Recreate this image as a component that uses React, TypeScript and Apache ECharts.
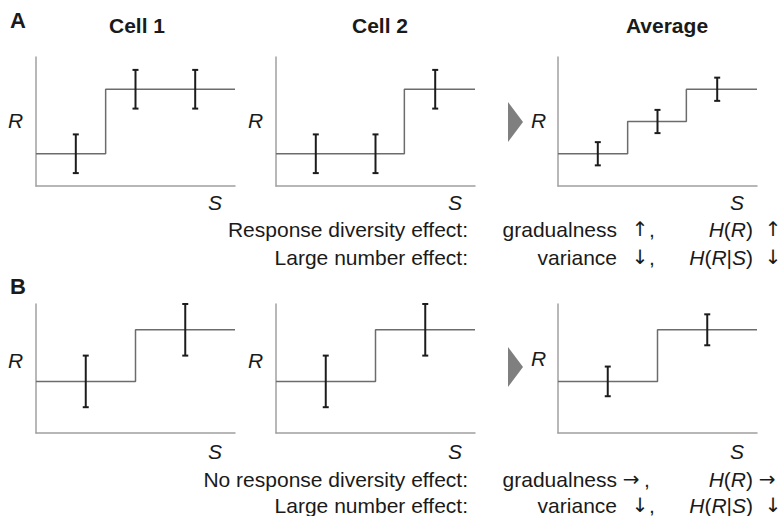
import React, { useEffect, useRef } from 'react';
import * as echarts from 'echarts';

// ---- data ----
const panelTitles = ['Cell 1', 'Cell 2', 'Average'];
const rowLetters = ['A', 'B'];
const yName = 'R';
const xName = 'S';

// step responses: [S, R] (step changes at each S)
const aCell1Steps = [[0, 0.25], [0.35, 0.75], [1, 0.75]];
const aCell2Steps = [[0, 0.25], [0.645, 0.75], [1, 0.75]];
const aAvgSteps = [[0, 0.25], [0.35, 0.5], [0.645, 0.75], [1, 0.75]];
const bCell1Steps = [[0, 0.4], [0.5, 0.8], [1, 0.8]];
const bCell2Steps = [[0, 0.4], [0.5, 0.8], [1, 0.8]];
const bAvgSteps = [[0, 0.4], [0.5, 0.8], [1, 0.8]];

// error bars: [S, mean R, half-range]
const aCell1Bars = [[0.2, 0.25, 0.15], [0.5, 0.75, 0.15], [0.8, 0.75, 0.15]];
const aCell2Bars = [[0.2, 0.25, 0.15], [0.5, 0.25, 0.15], [0.8, 0.75, 0.15]];
const aAvgBars = [[0.2, 0.25, 0.09], [0.5, 0.5, 0.09], [0.8, 0.75, 0.09]];
const bCell1Bars = [[0.25, 0.4, 0.2], [0.75, 0.8, 0.2]];
const bCell2Bars = [[0.25, 0.4, 0.2], [0.75, 0.8, 0.2]];
const bAvgBars = [[0.25, 0.4, 0.115], [0.75, 0.8, 0.12]];

const UP = '\u2191\uFE0E';
const DOWN = '\u2193\uFE0E';
const RIGHT = '\u2192\uFE0E';
const rowAEffects = ['Response diversity effect:', 'Large number effect:'];
const rowBEffects = ['No response diversity effect:', 'Large number effect:'];
const rowAMeasures = [['gradualness', UP], ['variance', DOWN]];
const rowBMeasures = [['gradualness', RIGHT], ['variance', DOWN]];
const rowAInfo = [['{i|H}({i|R})', UP], ['{i|H}({i|R}|{i|S})', DOWN]];
const rowBInfo = [['{i|H}({i|R})', RIGHT], ['{i|H}({i|R}|{i|S})', DOWN]];

// ---- layout / style ----
const FONT = '"Liberation Sans", Arial, Helvetica, sans-serif';
const ARROW_FONT = '"DejaVu Sans", "Liberation Sans", sans-serif';
const TXT = '#1a1a1a';
const FS = 21;
const gridBoxes = [
  { left: 36, top: 57 }, { left: 276, top: 57 }, { left: 558, top: 57 },
  { left: 36, top: 304 }, { left: 276, top: 304 }, { left: 558, top: 304 },
];
const GW = 199;
const GH = 129;

const allSteps = [aCell1Steps, aCell2Steps, aAvgSteps, bCell1Steps, bCell2Steps, bAvgSteps];
const allBars = [aCell1Bars, aCell2Bars, aAvgBars, bCell1Bars, bCell2Bars, bAvgBars];

function txt(text: string, x: number, y: number, opts: any = {}) {
  return {
    type: 'text',
    x,
    y,
    silent: true,
    style: {
      text,
      fill: TXT,
      fontFamily: FONT,
      fontSize: FS,
      align: 'left',
      verticalAlign: 'middle',
      ...opts,
    },
  };
}

function richTxt(text: string, x: number, y: number, align: string) {
  return txt(text, x, y, {
    align,
    rich: {
      i: { fontStyle: 'italic', fontFamily: FONT, fontSize: FS, fill: TXT },
    },
  });
}

function arrow(text: string, x: number, y: number) {
  return txt(text, x, y, { align: 'center', fontFamily: ARROW_FONT, fontSize: 20, fontWeight: 'normal', fill: '#1a1a1a' });
}

export default function App() {
  const ref = useRef<HTMLDivElement>(null);

  useEffect(() => {
    if (!ref.current) return;
    const chart = echarts.init(ref.current, undefined, { renderer: 'svg' });

    const grid = gridBoxes.map((g) => ({ left: g.left, top: g.top, width: GW, height: GH }));
    const axisCommon = {
      type: 'value',
      min: 0,
      max: 1,
      axisLine: { show: true, onZero: false, lineStyle: { color: '#a0a0a0', width: 1.5 } },
      axisTick: { show: false },
      axisLabel: { show: false },
      splitLine: { show: false },
    };
    const xAxis = gridBoxes.map((_, i) => ({ ...axisCommon, gridIndex: i }));
    const yAxis = gridBoxes.map((_, i) => ({ ...axisCommon, gridIndex: i }));

    const series: any[] = [];
    allSteps.forEach((steps, i) => {
      series.push({
        type: 'line',
        xAxisIndex: i,
        yAxisIndex: i,
        step: 'end',
        data: steps,
        showSymbol: false,
        symbol: 'none',
        lineStyle: { color: '#6c6c6c', width: 1.5 },
        silent: true,
        z: 2,
      });
    });
    allBars.forEach((bars, i) => {
      series.push({
        type: 'custom',
        xAxisIndex: i,
        yAxisIndex: i,
        coordinateSystem: 'cartesian2d',
        data: bars,
        encode: { x: 0, y: 1 },
        silent: true,
        z: 3,
        renderItem: (params: any, api: any) => {
          const x = api.value(0);
          const c = api.value(1);
          const h = api.value(2);
          const top = api.coord([x, c + h]);
          const bot = api.coord([x, c - h]);
          const cap = 3;
          const st = { stroke: '#1c1c1c', lineWidth: 2 };
          return {
            type: 'group',
            children: [
              { type: 'line', shape: { x1: top[0], y1: top[1], x2: bot[0], y2: bot[1] }, style: st },
              { type: 'line', shape: { x1: top[0] - cap, y1: top[1], x2: top[0] + cap, y2: top[1] }, style: st },
              { type: 'line', shape: { x1: bot[0] - cap, y1: bot[1], x2: bot[0] + cap, y2: bot[1] }, style: st },
            ],
          };
        },
      });
    });

    const graphics: any[] = [];
    // panel letters
    graphics.push(txt(rowLetters[0], 10, 20, { fontWeight: 'bold', fontSize: 22 }));
    graphics.push(txt(rowLetters[1], 10, 286, { fontWeight: 'bold', fontSize: 22 }));
    // titles
    const titleX = [137, 380, 667];
    panelTitles.forEach((t, i) => graphics.push(txt(t, titleX[i], 25, { fontWeight: 'bold', align: 'center' })));
    // R labels
    const rX = [8, 248, 531];
    rX.forEach((x) => graphics.push(txt(yName, x, 120, { fontStyle: 'italic' })));
    [360, 360, 358].forEach((y, i) => graphics.push(txt(yName, rX[i], y, { fontStyle: 'italic' })));
    // S labels
    const sX = [215, 455, 737];
    sX.forEach((x) => graphics.push(txt(xName, x, 202, { fontStyle: 'italic', align: 'center' })));
    sX.forEach((x) => graphics.push(txt(xName, x, 451, { fontStyle: 'italic', align: 'center' })));
    // triangles
    [122, 367].forEach((cy) =>
      graphics.push({
        type: 'polygon',
        silent: true,
        shape: { points: [[508, cy - 20], [523, cy], [508, cy + 20]] },
        style: { fill: '#7f7f7f' },
      })
    );
    // effect rows
    const rows = [
      { y: 229, eff: rowAEffects[0], meas: rowAMeasures[0], info: rowAInfo[0], a1: 640, c1: 652, a2: 773 },
      { y: 257, eff: rowAEffects[1], meas: rowAMeasures[1], info: rowAInfo[1], a1: 640, c1: 652, a2: 773 },
      { y: 479, eff: rowBEffects[0], meas: rowBMeasures[0], info: rowBInfo[0], a1: 631, c1: 647, a2: 767 },
      { y: 505, eff: rowBEffects[1], meas: rowBMeasures[1], info: rowBInfo[1], a1: 640, c1: 652, a2: 773 },
    ];
    rows.forEach((r) => {
      graphics.push(txt(r.eff, 468, r.y, { align: 'right' }));
      graphics.push(txt(r.meas[0], 617, r.y, { align: 'right' }));
      graphics.push(arrow(r.meas[1], r.a1, r.y));
      graphics.push(txt(',', r.c1, r.y, { align: 'center' }));
      graphics.push(richTxt(r.info[0], 753, r.y, 'right'));
      graphics.push(arrow(r.info[1], r.a2, r.y));
    });

    chart.setOption({
      animation: false,
      backgroundColor: '#ffffff',
      grid,
      xAxis,
      yAxis,
      series,
      graphic: { elements: graphics },
    });

    return () => chart.dispose();
  }, []);

  return (
    <div
      ref={ref}
      style={{ position: 'absolute', left: 0, top: 0, width: 781, height: 516 }}
    />
  );
}
